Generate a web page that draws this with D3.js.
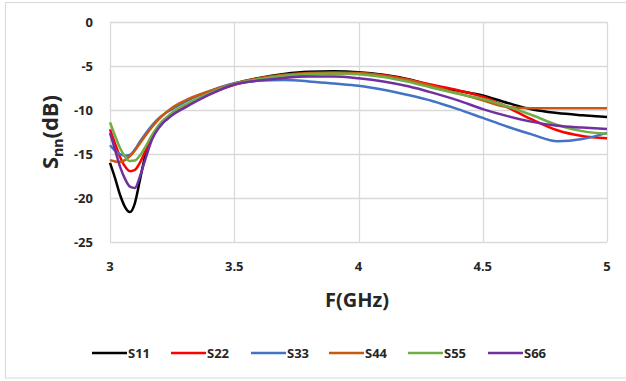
<!DOCTYPE html>
<html>
<head>
<meta charset="utf-8">
<script src="https://cdn.jsdelivr.net/npm/d3@7"></script>
<style>
  body { margin: 0; background: #fff; }
  text { font-family: "Open Sans", "Liberation Sans", sans-serif; font-weight: bold; fill: #262626; }
</style>
</head>
<body>
<div id="chart"></div>
<script>
// frequency points (GHz)
var freq = [3.0, 3.02, 3.04, 3.06, 3.08, 3.1, 3.12, 3.14, 3.17, 3.2, 3.25, 3.3, 3.4, 3.5,
    3.6, 3.7, 3.8, 3.9, 4.0, 4.1, 4.2, 4.3, 4.4, 4.5, 4.6, 4.7, 4.8, 4.9, 5.0];

var s11 = [-16.0, -17.7, -19.6, -21.0, -21.6, -20.6, -18.0, -15.4, -13.0, -11.7, -10.4, -9.55, -8.15, -7.0,
    -6.35, -5.9, -5.65, -5.6, -5.7, -6.0, -6.5, -7.25, -7.8, -8.35, -9.2, -9.95, -10.35, -10.6, -10.8];
var s22 = [-12.2, -13.8, -15.3, -16.4, -16.95, -16.8, -16.0, -14.8, -13.0, -11.7, -10.4, -9.6, -8.2, -7.15,
    -6.6, -6.2, -5.95, -5.85, -5.85, -6.05, -6.55, -7.15, -7.75, -8.5, -9.7, -11.1, -12.3, -12.95, -13.2];
var s33 = [-14.0, -14.6, -15.0, -15.2, -15.1, -14.5, -13.6, -12.8, -11.7, -10.85, -9.9, -9.1, -7.85, -6.95,
    -6.65, -6.6, -6.75, -7.0, -7.25, -7.7, -8.3, -9.0, -9.9, -10.9, -11.9, -12.8, -13.55, -13.3, -12.6];
var s44 = [-15.7, -15.85, -15.9, -15.7, -15.25, -14.6, -13.8, -13.0, -11.9, -10.95, -9.75, -8.95, -7.85, -7.0,
    -6.4, -6.0, -5.8, -5.75, -5.8, -6.1, -6.6, -7.3, -8.1, -8.9, -9.65, -9.8, -9.8, -9.8, -9.8];
var s55 = [-11.4, -12.9, -14.3, -15.3, -15.8, -15.75, -15.2, -14.3, -12.8, -11.6, -10.3, -9.45, -8.1, -7.05,
    -6.5, -6.1, -5.9, -5.85, -5.95, -6.25, -6.8, -7.5, -8.15, -8.75, -9.6, -10.6, -11.7, -12.4, -12.7];
var s66 = [-12.6, -14.5, -16.4, -17.8, -18.7, -18.85, -17.6, -15.8, -13.3, -11.9, -10.6, -9.75, -8.25, -7.1,
    -6.65, -6.35, -6.2, -6.2, -6.4, -6.75, -7.3, -8.05, -8.9, -9.9, -10.7, -11.35, -11.8, -12.0, -12.15];

var seriesNames = ["S11", "S22", "S33", "S44", "S55", "S66"];
var seriesValues = [s11, s22, s33, s44, s55, s66];
var seriesColors = ["#000000", "#ff0000", "#4472c4", "#c55a11", "#70ad47", "#7030a0"];

var xTicks = [3, 3.5, 4, 4.5, 5];
var yTicks = [0, -5, -10, -15, -20, -25];

var W = 626, H = 381;
var margin = { top: 22, right: 19, bottom: 139, left: 110 },
    width = W - margin.left - margin.right,
    height = H - margin.top - margin.bottom;

var svg = d3.select("#chart").append("svg")
    .attr("width", W)
    .attr("height", H);

// outer chart frame (right side runs off the picture)
svg.append("rect")
    .attr("x", 5.5).attr("y", 2.5)
    .attr("width", 660).attr("height", 375.5)
    .attr("fill", "none")
    .attr("stroke", "#d9d9d9");

var g = svg.append("g")
    .attr("transform", "translate(" + margin.left + "," + margin.top + ")");

var x = d3.scaleLinear().domain([3, 5]).range([0, width]);
var y = d3.scaleLinear().domain([-25, 0]).range([height, 0]);

// grid lines
g.append("g")
    .selectAll("line.h")
    .data(yTicks)
    .enter().append("line")
    .attr("x1", 0).attr("x2", width)
    .attr("y1", d => Math.round(y(d)) + 0.5)
    .attr("y2", d => Math.round(y(d)) + 0.5)
    .attr("stroke", "#d9d9d9").attr("stroke-width", 1.3);

g.append("g")
    .selectAll("line.v")
    .data(xTicks)
    .enter().append("line")
    .attr("y1", 0).attr("y2", height)
    .attr("x1", d => Math.round(x(d)) + 0.5)
    .attr("x2", d => Math.round(x(d)) + 0.5)
    .attr("stroke", "#d9d9d9").attr("stroke-width", 1.3);

// tick labels
g.append("g")
    .selectAll("text")
    .data(yTicks)
    .enter().append("text")
    .attr("x", -17)
    .attr("y", d => y(d))
    .attr("dy", "0.35em")
    .attr("text-anchor", "end")
    .style("font-size", "13px")
    .text(d => d);

g.append("g")
    .selectAll("text")
    .data(xTicks)
    .enter().append("text")
    .attr("x", d => x(d))
    .attr("y", height + 29)
    .attr("text-anchor", "middle")
    .style("font-size", "13px")
    .text(d => d);

// axis titles
svg.append("text")
    .attr("x", 357)
    .attr("y", 307)
    .attr("text-anchor", "middle")
    .style("font-size", "20px")
    .text("F(GHz)");

var yt = svg.append("text")
    .attr("transform", "translate(58,132) rotate(-90)")
    .attr("text-anchor", "middle")
    .style("font-size", "22px");
yt.append("tspan").text("S");
yt.append("tspan").attr("dy", 5).style("font-size", "14px").text("nn");
yt.append("tspan").attr("dy", -5).text("(dB)");

// series lines
var line = d3.line()
    .curve(d3.curveMonotoneX)
    .x((d, i) => x(freq[i]))
    .y(d => y(d));

g.selectAll(".series")
    .data(seriesValues)
    .enter().append("path")
    .attr("class", "series")
    .attr("d", d => line(d))
    .attr("fill", "none")
    .attr("stroke", (d, i) => seriesColors[i])
    .attr("stroke-width", 2.5)
    .attr("stroke-linejoin", "round");

// legend
var legendX = [92, 171, 251, 329, 408, 488];
var legend = svg.selectAll(".legend")
    .data(seriesNames)
    .enter().append("g")
    .attr("class", "legend")
    .attr("transform", (d, i) => "translate(" + legendX[i] + ",353)");

legend.append("line")
    .attr("x1", 0).attr("x2", 35)
    .attr("stroke", (d, i) => seriesColors[i])
    .attr("stroke-width", 2.5);

legend.append("text")
    .attr("x", 36)
    .attr("dy", "0.35em")
    .style("font-size", "13px")
    .text(d => d);
</script>
</body>
</html>
